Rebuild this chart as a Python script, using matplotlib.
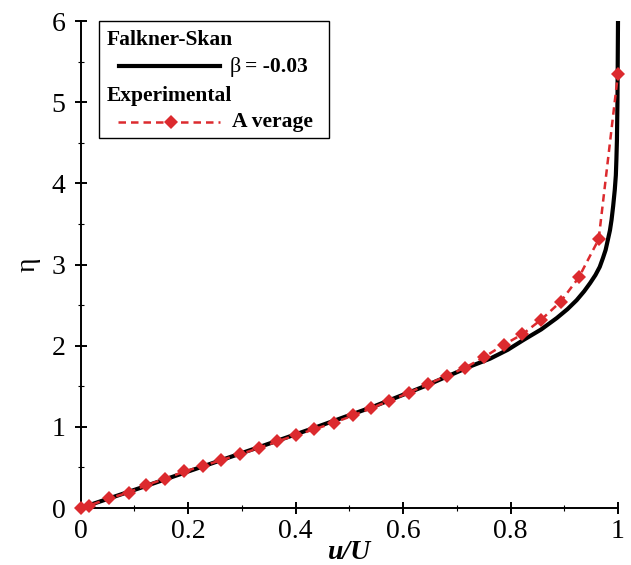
import matplotlib
matplotlib.use("Agg")
import matplotlib.pyplot as plt
from matplotlib.lines import Line2D
from matplotlib.patches import Rectangle
from matplotlib.ticker import MultipleLocator

# ---- data ----
fs_eta = [0, 0.25, 0.5, 0.75, 1.0, 1.25, 1.5, 1.75, 1.84, 1.95, 2.07, 2.2, 2.34,
          2.45, 2.56, 2.67, 2.77, 2.87, 2.97, 3.08, 3.18, 3.30, 3.42, 3.55, 3.72,
          3.92, 4.1, 4.29, 4.53, 5.0, 6.0]
fs_u = [0, 0.112, 0.222, 0.332, 0.440, 0.545, 0.640, 0.727, 0.762, 0.795, 0.824,
        0.857, 0.886, 0.906, 0.923, 0.937, 0.948, 0.958, 0.966, 0.972, 0.977, 0.981,
        0.985, 0.988, 0.991, 0.994, 0.996, 0.997, 0.998, 0.999, 1.0]

exp_u = [0, 0.016, 0.053, 0.089, 0.121, 0.157, 0.193, 0.228, 0.262, 0.296, 0.332,
         0.366, 0.401, 0.435, 0.471, 0.507, 0.541, 0.574, 0.611, 0.647, 0.682, 0.716,
         0.751, 0.787, 0.822, 0.857, 0.893, 0.927, 0.964, 1.0]
exp_eta = [0, 0.03, 0.12, 0.19, 0.28, 0.36, 0.45, 0.52, 0.59, 0.66, 0.74, 0.82, 0.90,
           0.97, 1.05, 1.14, 1.23, 1.32, 1.42, 1.53, 1.63, 1.73, 1.86, 2.01, 2.14, 2.32,
           2.54, 2.84, 3.31, 5.35]

x_ticks = [0, 0.2, 0.4, 0.6, 0.8, 1]
x_ticklabels = ["0", "0.2", "0.4", "0.6", "0.8", "1"]
y_ticks = [0, 1, 2, 3, 4, 5, 6]

RED = "#dc2a2e"
DASH = (0, (3, 2))
SERIF = ["Liberation Serif", "DejaVu Serif"]
plt.rcParams["font.family"] = SERIF

W, H = 631, 565
fig = plt.figure(figsize=(W / 100, H / 100), dpi=100)

# axes position from pixels
L, R, T, B = 80.7, 618.0, 21.0, 508.0
ax = fig.add_axes([L / W, 1 - B / H, (R - L) / W, (B - T) / H])

ax.plot(fs_u, fs_eta, color="black", lw=3.0, solid_capstyle="butt", zorder=3,
        clip_on=False)
ax.plot(exp_u, exp_eta, color=RED, lw=1.8, ls=DASH, marker="D",
        markersize=7, markeredgewidth=0, zorder=4, clip_on=False)

ax.set_xlim(0, 1)
ax.set_ylim(0, 6)
ax.set_xticks(x_ticks)
ax.set_xticklabels(x_ticklabels)
ax.set_yticks(y_ticks)
ax.xaxis.set_minor_locator(MultipleLocator(0.1))
ax.yaxis.set_minor_locator(MultipleLocator(0.5))

for s in ["top", "right"]:
    ax.spines[s].set_visible(False)
for s in ["left", "bottom"]:
    ax.spines[s].set_linewidth(1.4)

ax.tick_params(which="major", direction="inout", length=8, width=1.4,
               labelsize=20, pad=4)
ax.tick_params(which="minor", direction="inout", length=4, width=0.8)
ax.tick_params(axis="y", which="major", pad=7)

ax.set_xlabel("u/U", fontsize=20, fontweight="bold", fontstyle="italic")
ax.xaxis.set_label_coords(0.5, -0.065)
ax.set_ylabel("η", fontsize=20, rotation=90, labelpad=8)

# ---- legend (drawn by hand to match the layout) ----
def fx(px):
    return px / W

def fy(py):
    return 1 - py / H

box = Rectangle((fx(98.5), fy(138)), fx(329) - fx(98.5), fy(21) - fy(138),
                transform=fig.transFigure, facecolor="white", edgecolor="black",
                lw=1.0, zorder=10)
fig.patches.append(box)

fig.text(fx(107), fy(40), "Falkner-Skan", fontsize=15.5, fontweight="bold",
         va="center", ha="left", zorder=11)
fig.lines.append(Line2D([fx(119), fx(220)], [fy(66), fy(66)], color="black",
                        lw=3.0, transform=fig.transFigure, zorder=11))
fig.text(fx(230), fy(67), "β", fontsize=16, va="center", ha="left", zorder=11)
fig.text(fx(245), fy(67), "= -0.03", fontsize=15.5, fontweight="bold",
         va="center", ha="left", zorder=11)
fig.text(fx(107), fy(96), "Experimental", fontsize=15.5, fontweight="bold",
         va="center", ha="left", zorder=11)
fig.lines.append(Line2D([fx(118), fx(220)], [fy(122), fy(122)], color=RED,
                        lw=1.8, ls=DASH, transform=fig.transFigure,
                        zorder=11))
fig.lines.append(Line2D([fx(171)], [fy(122)], color=RED, marker="D",
                        markersize=7, markeredgewidth=0, ls="none",
                        transform=fig.transFigure, zorder=12))
fig.text(fx(232), fy(122), "A verage", fontsize=15.5, fontweight="bold",
         va="center", ha="left", zorder=11)

fig.savefig("out.png", dpi=100, facecolor="white")
